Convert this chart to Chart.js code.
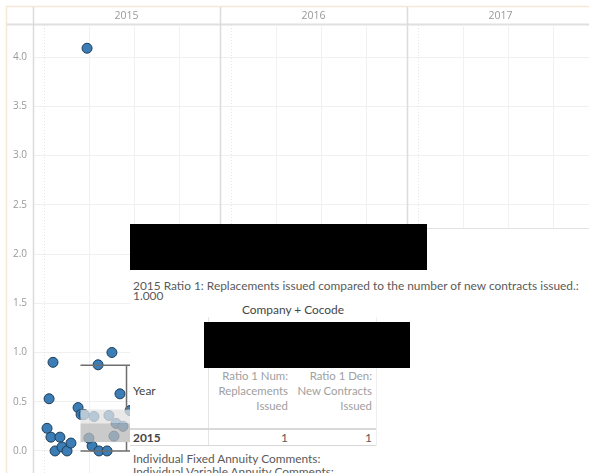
<!DOCTYPE html>
<html>
<head>
<meta charset="utf-8">
<script src="https://cdn.jsdelivr.net/npm/chart.js@4"></script>
<style>
  html, body { margin: 0; padding: 0; background: #fff; overflow: hidden; }
  #wrap { position: relative; width: 589px; height: 473px; }
  #chart { display: block; }
  #tip { position: absolute; left: 130px; top: 228px; width: 459px; height: 245px; background: #fff;
         border-top: 1px solid #e2e2e2; font-family: Lato, "Noto Sans", sans-serif; font-size: 11.9px; color: #5a5a5a; }
  .redact { position: absolute; background: #000; }
  .t { position: absolute; white-space: nowrap; line-height: 12px; }
  .hdr { color: #a0a0a0; text-align: right; font-size: 11.4px; }
  .line { position: absolute; background: #d8d8d8; }
</style>
</head>
<body>
<div id="wrap">
  <canvas id="chart" width="589" height="473"></canvas>
  <div id="tip">
    <div class="t" style="left:3px; top:51px;">2015 Ratio 1: Replacements issued compared to the number of new contracts issued.:</div>
    <div class="t" style="left:3px; top:61px;">1.000</div>
    <div class="t" style="left:112px; top:75px; color:#444;">Company + Cocode</div>
    <div class="line" style="left:78px; top:88px; width:1px; height:129px; background:#e4e4e4;"></div>
    <div class="line" style="left:246px; top:88px; width:1px; height:129px; background:#eeeeee;"></div>
    <div class="t hdr" style="left:73px; top:139px; width:85px; line-height:15px;">Ratio 1 Num:<br>Replacements<br>Issued</div>
    <div class="t hdr" style="left:157px; top:139px; width:85px; line-height:15px;">Ratio 1 Den:<br>New Contracts<br>Issued</div>
    <div class="t" style="left:3px; top:156px; color:#444;">Year</div>
    <div class="line" style="left:0; top:199px; width:246px; height:2px;"></div>
    <div class="t" style="left:3px; top:203px; font-weight:bold; color:#444;">2015</div>
    <div class="t" style="left:78px; top:203px; width:80px; text-align:right;">1</div>
    <div class="t" style="left:162px; top:203px; width:80px; text-align:right;">1</div>
    <div class="line" style="left:0; top:216px; width:246px; height:1px;"></div>
    <div class="t" style="left:3px; top:224px;">Individual Fixed Annuity Comments:</div>
    <div class="t" style="left:3px; top:237px;">Individual Variable Annuity Comments:</div>
  </div>
  <div class="redact" style="left:130px; top:224px; width:297px; height:46px;"></div>
  <div class="redact" style="left:204px; top:322px; width:206px; height:46px;"></div>
</div>
<script>
// panels (years) and the ratio per company, all in 2015
const years = ['2015', '2016', '2017'];
const ratio2015 = [0.90, 0.53, 0.23, 0.14, 0.14, 0.00, 0.04, 0.00, 0.08, 0.44, 0.37, 0.875,
                   1.00, 0.58, 0.05, 0.00, 0.00, 0.13, 0.37, 0.35, 0.36, 0.28, 0.25, 0.15, 0.41, 4.09];
// horizontal jitter inside the 2015 pane (0..1 of pane width)
const jitter2015 = [0.107, 0.086, 0.075, 0.096, 0.144, 0.118, 0.155, 0.182, 0.203, 0.241, 0.257, 0.348,
                    0.422, 0.465, 0.316, 0.353, 0.396, 0.299, 0.273, 0.326, 0.406, 0.444, 0.481, 0.433, 0.519, 0.289];
// box plot for 2015
const box2015 = { low: 0.0, q1: 0.09, median: 0.28, q3: 0.42, high: 0.87 };
const yTicks = [0, 0.5, 1, 1.5, 2, 2.5, 3, 3.5, 4];

const points = ratio2015.map((v, i) => ({ x: jitter2015[i], y: v }));

const panes = {
    id: 'panes',
    beforeDatasetsDraw(chart) {
        const ctx = chart.ctx, x = chart.scales.x, area = chart.chartArea;
        ctx.save();
        // tableau dashboard border
        ctx.strokeStyle = '#f5e8d6';
        ctx.lineWidth = 1.5;
        ctx.beginPath();
        ctx.moveTo(6.5, 473); ctx.lineTo(6.5, 6.5); ctx.lineTo(589, 6.5);
        ctx.stroke();
        // header bottom
        ctx.strokeStyle = '#e0e0e0';
        ctx.lineWidth = 2;
        ctx.beginPath(); ctx.moveTo(7, 24.5); ctx.lineTo(589, 24.5); ctx.stroke();
        years.forEach((yr, i) => {
            // inner vertical grid
            ctx.lineWidth = 1;
            [0.30, 0.54, 0.78].forEach(o => {
                const px = Math.round(x.getPixelForValue(i + o)) + 0.5;
                ctx.strokeStyle = '#f1f1f1';
                ctx.beginPath(); ctx.moveTo(px, area.top); ctx.lineTo(px, area.bottom); ctx.stroke();
            });
            const dx = Math.round(x.getPixelForValue(i + 0.059)) + 0.5;
            ctx.strokeStyle = '#e6e6e6';
            ctx.setLineDash([1, 2]);
            ctx.beginPath(); ctx.moveTo(dx, area.top); ctx.lineTo(dx, area.bottom); ctx.stroke();
            ctx.setLineDash([]);
            // pane divider
            const px = Math.round(x.getPixelForValue(i)) + 0.5;
            ctx.strokeStyle = '#dcdcdc';
            ctx.lineWidth = 1.5;
            ctx.beginPath(); ctx.moveTo(px, 7); ctx.lineTo(px, area.bottom); ctx.stroke();
            // header label
            ctx.fillStyle = '#999';
            ctx.font = '10.5px "Open Sans", sans-serif';
            ctx.textAlign = 'center';
            ctx.textBaseline = 'middle';
            ctx.fillText(yr, x.getPixelForValue(i + 0.5), 16);
        });
        ctx.restore();
    },
    afterDatasetsDraw(chart) {
        const ctx = chart.ctx, x = chart.scales.x, y = chart.scales.y;
        const l = x.getPixelForValue(0.5 - 0.246), r = x.getPixelForValue(0.5 + 0.246);
        const c = x.getPixelForValue(0.5);
        ctx.save();
        ctx.fillStyle = 'rgba(226,226,226,0.75)';
        ctx.fillRect(l, y.getPixelForValue(box2015.q3), r - l, y.getPixelForValue(box2015.median) - y.getPixelForValue(box2015.q3));
        ctx.fillStyle = 'rgba(184,184,184,0.75)';
        ctx.fillRect(l, y.getPixelForValue(box2015.median), r - l, y.getPixelForValue(box2015.q1) - y.getPixelForValue(box2015.median));
        ctx.strokeStyle = '#6e6e6e';
        ctx.lineWidth = 1.5;
        ctx.beginPath();
        [box2015.low, box2015.high].forEach(v => {
            const py = y.getPixelForValue(v);
            ctx.moveTo(l, py); ctx.lineTo(r, py);
        });
        ctx.moveTo(c, y.getPixelForValue(box2015.high)); ctx.lineTo(c, y.getPixelForValue(box2015.q3));
        ctx.moveTo(c, y.getPixelForValue(box2015.q1)); ctx.lineTo(c, y.getPixelForValue(box2015.low));
        ctx.stroke();
        ctx.restore();
    }
};

new Chart(document.getElementById('chart').getContext('2d'), {
    type: 'scatter',
    data: {
        datasets: [{
            data: points,
            pointRadius: 5,
            pointBackgroundColor: '#3b7db4',
            pointBorderColor: '#1d3d5a',
            pointBorderWidth: 1
        }]
    },
    options: {
        responsive: false,
        animation: false,
        events: [],
        layout: { autoPadding: false, padding: { top: 25, left: 0, right: 0, bottom: 0 } },
        plugins: { legend: { display: false }, tooltip: { enabled: false } },
        scales: {
            x: { type: 'linear', min: 0, max: 2.973, display: false },
            y: {
                min: -0.224, max: 4.326,
                afterBuildTicks: s => { s.ticks = yTicks.map(v => ({ value: v })); },
                afterFit: s => { s.width = 33; s.paddingTop = 0; s.paddingBottom = 0; },
                border: { display: false },
                grid: { color: '#f0f0f0', drawTicks: false },
                ticks: {
                    padding: 6,
                    color: '#999',
                    font: { family: '"Open Sans", sans-serif', size: 10 },
                    callback: v => v.toFixed(1)
                }
            }
        }
    },
    plugins: [panes]
});
</script>
</body>
</html>
